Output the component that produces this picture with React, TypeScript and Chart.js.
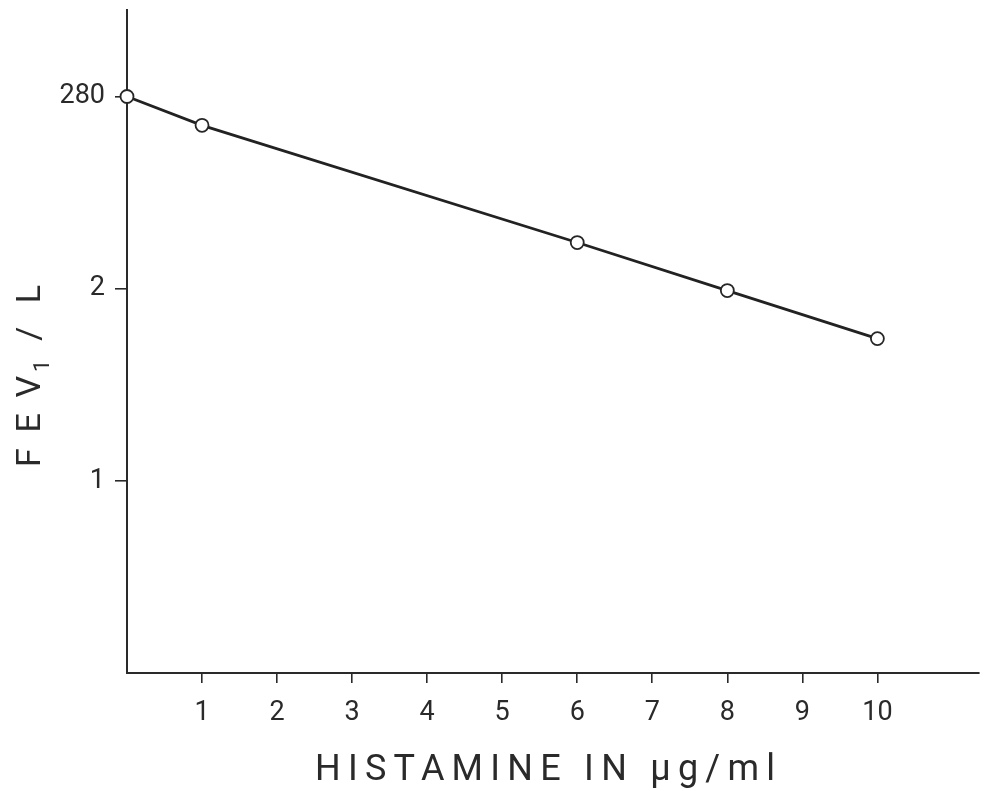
import React, { useEffect, useRef } from "react";
import { Chart, registerables } from "chart.js";

Chart.register(...registerables);

// ---- data ----
const doses = [0, 1, 6, 8, 10];
const fev1 = [3.0, 2.85, 2.24, 1.99, 1.74];
const xTickValues = [1, 2, 3, 4, 5, 6, 7, 8, 9, 10];
const xTickLabels = ["1", "2", "3", "4", "5", "6", "7", "8", "9", "10"];
const yTickValues = [1, 2, 3];
const yTickLabels = ["1", "2", "280"];
const xTitle = "HISTAMINE IN µg/ml";
const yTitleMain = ["F", "E", "V"];
const yTitleSub = "1";
const yTitleRest = ["/", "L"];

const FONT = "Roboto, 'DejaVu Sans', sans-serif";
const INK = "#2a2a2a";

const titlePlugin = {
  id: "customTitles",
  afterDraw(chart: any) {
    const ctx: CanvasRenderingContext2D = chart.ctx;
    ctx.save();
    ctx.fillStyle = INK;
    ctx.textBaseline = "alphabetic";
    ctx.textAlign = "left";

    // X axis title, letter-spaced to span the reference width
    ctx.font = `36px ${FONT}`;
    (ctx as any).letterSpacing = "0px";
    const w = ctx.measureText(xTitle).width;
    const n = xTitle.length;
    const targetW = 460;
    const ls = (targetW - w) / (n - 1);
    (ctx as any).letterSpacing = `${ls}px`;
    ctx.fillText(xTitle, 315, 780);
    (ctx as any).letterSpacing = "0px";

    // Y axis title, rotated, reading bottom to top
    ctx.translate(40, 467);
    ctx.rotate(-Math.PI / 2);
    type Item = { t: string; size: number; dy: number; gap: number };
    const items: Item[] = [];
    yTitleMain.forEach((t, i) => items.push({ t, size: 34, dy: 0, gap: i === 0 ? 0 : 1 }));
    items.push({ t: yTitleSub, size: 22, dy: 9, gap: 0.25 });
    yTitleRest.forEach((t, i) => items.push({ t, size: 34, dy: 0, gap: i === 0 ? 1.2 : 1.5 }));
    let totalW = 0;
    let totalGapW = 0;
    const widths = items.map((it) => {
      ctx.font = `${it.size}px ${FONT}`;
      const mw = ctx.measureText(it.t).width;
      totalW += mw;
      totalGapW += it.gap;
      return mw;
    });
    const span = 182;
    const g = (span - totalW) / totalGapW;
    let x = 0;
    items.forEach((it, i) => {
      x += it.gap * g;
      ctx.font = `${it.size}px ${FONT}`;
      ctx.fillText(it.t, x, it.dy);
      x += widths[i];
    });
    ctx.restore();
  },
};

export default function App() {
  const canvasRef = useRef<HTMLCanvasElement | null>(null);

  useEffect(() => {
    const canvas = canvasRef.current;
    if (!canvas) return;
    const chart = new Chart(canvas, {
      type: "line",
      data: {
        datasets: [
          {
            data: doses.map((d, i) => ({ x: d, y: fev1[i] })),
            borderColor: "#222222",
            borderWidth: 2.8,
            pointRadius: 6.5,
            pointBackgroundColor: "#ffffff",
            pointBorderColor: "#262626",
            pointBorderWidth: 1.8,
            tension: 0,
            clip: false as any,
          },
        ],
      },
      options: {
        animation: false,
        responsive: false,
        maintainAspectRatio: false,
        layout: { padding: { top: 10, right: 0, left: 0, bottom: 0 } },
        plugins: {
          legend: { display: false },
          tooltip: { enabled: false },
          title: { display: false },
        },
        scales: {
          x: {
            type: "linear",
            min: 0,
            max: 11.35,
            afterBuildTicks: (s: any) => {
              s.ticks = xTickValues.map((v) => ({ value: v }));
            },
            afterFit: (s: any) => {
              s.height = 118;
              s.paddingLeft = 0;
              s.paddingRight = 0;
            },
            grid: {
              display: true,
              drawOnChartArea: false,
              drawTicks: true,
              tickLength: 10,
              color: INK,
              lineWidth: 1.6,
            },
            border: { display: true, color: INK, width: 2 },
            ticks: {
              autoSkip: false,
              maxRotation: 0,
              padding: 14,
              color: INK,
              font: { family: FONT, size: 27 },
              callback: (v: any) => {
                const i = xTickValues.indexOf(Number(v));
                return i >= 0 ? xTickLabels[i] : "";
              },
            },
          },
          y: {
            type: "linear",
            min: 0,
            max: 3.45,
            afterBuildTicks: (s: any) => {
              s.ticks = yTickValues.map((v) => ({ value: v }));
            },
            afterFit: (s: any) => {
              s.width = 127;
              s.paddingTop = 0;
              s.paddingBottom = 0;
            },
            grid: {
              display: true,
              drawOnChartArea: false,
              drawTicks: true,
              tickLength: 12,
              color: INK,
              lineWidth: 1.6,
            },
            border: { display: true, color: INK, width: 2 },
            ticks: {
              autoSkip: false,
              padding: 10,
              color: INK,
              font: { family: FONT, size: 27 },
              callback: (v: any) => {
                const i = yTickValues.indexOf(Number(v));
                return i >= 0 ? yTickLabels[i] : "";
              },
            },
          },
        },
      },
      plugins: [titlePlugin],
    } as any);
    return () => chart.destroy();
  }, []);

  return (
    <div style={{ position: "fixed", left: 0, top: 0, width: 987, height: 791, background: "#ffffff" }}>
      <canvas ref={canvasRef} width={987} height={791} style={{ display: "block", width: 987, height: 791 }} />
    </div>
  );
}
